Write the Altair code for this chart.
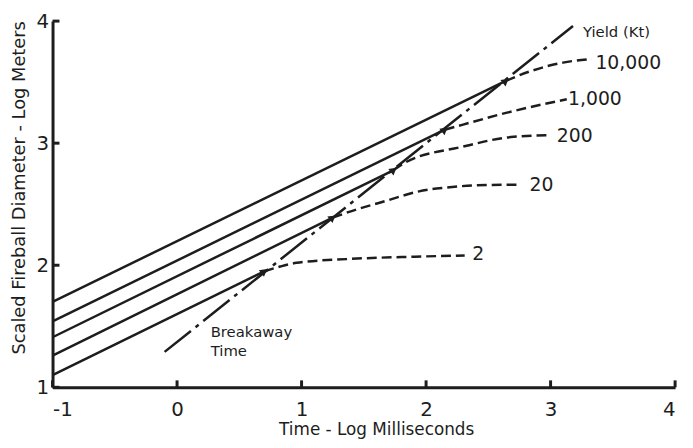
import altair as alt
import pandas as pd

FONT = "DejaVu Sans"
INK = "#1d1d1d"

# ---- data ----
x_ticks = [-1, 0, 1, 2, 3, 4]
y_ticks = [1, 2, 3, 4]

yields = ["2", "20", "200", "1,000", "10,000"]
solid_start_x = [-1, -1, -1, -1, -1]
solid_start_y = [1.10, 1.26, 1.41, 1.54, 1.70]
breakaway_x = [0.70, 1.25, 1.74, 2.15, 2.64]
breakaway_y = [1.95, 2.39, 2.78, 3.11, 3.51]

curve_2_x = [0.70, 0.83, 0.96, 1.36, 1.91, 2.31]
curve_2_y = [1.95, 1.99, 2.02, 2.05, 2.07, 2.08]
curve_20_x = [1.25, 1.45, 1.62, 2.02, 2.15, 2.41, 2.76]
curve_20_y = [2.39, 2.46, 2.51, 2.62, 2.635, 2.655, 2.66]
curve_200_x = [1.74, 1.83, 2.29, 2.68, 2.98]
curve_200_y = [2.78, 2.84, 2.97, 3.05, 3.065]
curve_1000_x = [2.15, 2.29, 2.65, 3.13]
curve_1000_y = [3.11, 3.15, 3.25, 3.36]
curve_10000_x = [2.64, 2.84, 3.10, 3.33]
curve_10000_y = [3.51, 3.59, 3.66, 3.69]

breakaway_line_x = [-0.10, 3.18]
breakaway_line_y = [1.29, 3.96]

label_x = [2.37, 2.83, 3.05, 3.14, 3.36]
label_y = [2.09, 2.66, 3.06, 3.36, 3.66]

yield_title = "Yield (Kt)"
yield_title_x = [3.26]
yield_title_y = [3.91]

break_text = ["Breakaway", "Time"]
break_text_x = [0.27, 0.27]
break_text_y = [1.415, 1.26]

# ---- tables ----
solid_rows = []
for i, name in enumerate(yields):
    solid_rows.append({"yield": name, "i": 0, "x": solid_start_x[i], "y": solid_start_y[i]})
    solid_rows.append({"yield": name, "i": 1, "x": breakaway_x[i], "y": breakaway_y[i]})
solid_df = pd.DataFrame(solid_rows)

curves = [(curve_2_x, curve_2_y), (curve_20_x, curve_20_y), (curve_200_x, curve_200_y),
          (curve_1000_x, curve_1000_y), (curve_10000_x, curve_10000_y)]
dash_rows = []
for name, (cx, cy) in zip(yields, curves):
    for k, (a, b) in enumerate(zip(cx, cy)):
        dash_rows.append({"yield": name, "i": k, "x": a, "y": b})
dash_df = pd.DataFrame(dash_rows)

break_df = pd.DataFrame({"x": breakaway_line_x, "y": breakaway_line_y, "i": [0, 1]})
arrow_df = pd.DataFrame({"x": breakaway_x, "y": breakaway_y})
label_df = pd.DataFrame({"x": label_x, "y": label_y, "t": yields})
ytitle_df = pd.DataFrame({"x": yield_title_x, "y": yield_title_y, "t": [yield_title]})
btext_df = pd.DataFrame({"x": break_text_x, "y": break_text_y, "t": break_text})
xt_df = pd.DataFrame({"x": x_ticks})
yt_df = pd.DataFrame({"y": y_ticks})

xs = alt.Scale(domain=[-1, 4], nice=False, zero=False)
ys = alt.Scale(domain=[1, 4], nice=False, zero=False)

x_axis = alt.Axis(values=x_ticks, title="Time - Log Milliseconds", grid=False, ticks=False,
                  tickSize=0, labelExpr="'' + datum.value", labelFontSize=20, labelPadding=12,
                  labelFont=FONT, labelColor=INK, domainWidth=3, domainColor=INK,
                  titleFont=FONT, titleFontSize=17, titleFontWeight="normal", titleColor=INK,
                  titleX=327, titleY=48, titleAlign="center", titleBaseline="alphabetic")
y_axis = alt.Axis(values=y_ticks, title="Scaled Fireball Diameter - Log Meters", grid=False,
                  ticks=False, tickSize=0, labelFontSize=20, labelPadding=4, labelFont=FONT,
                  labelColor=INK, domainWidth=3, domainColor=INK,
                  titleFont=FONT, titleFontSize=18, titleFontWeight="normal", titleColor=INK,
                  titleX=-28, titleY=168, titleAngle=270, titleAlign="center",
                  titleBaseline="alphabetic")

X = alt.X("x:Q", scale=xs, axis=x_axis)
Y = alt.Y("y:Q", scale=ys, axis=y_axis)

solid = alt.Chart(solid_df).mark_line(color=INK, strokeWidth=2.5).encode(
    x=X, y=Y, detail="yield:N", order="i:Q")
dashed = alt.Chart(dash_df).mark_line(color=INK, strokeWidth=2.5, strokeDash=[10, 5],
                                      interpolate="monotone").encode(
    x=X, y=Y, detail="yield:N", order="i:Q")
breakaway = alt.Chart(break_df).mark_line(color=INK, strokeWidth=2.5, strokeDash=[34, 6, 4, 6]).encode(
    x=X, y=Y, order="i:Q")
arrows = alt.Chart(arrow_df).mark_point(shape="triangle-up", filled=True, size=70, angle=51.5,
                                        color=INK, opacity=1).encode(x=X, y=Y)
xticks = alt.Chart(xt_df).mark_rule(color=INK, strokeWidth=3).encode(
    x=X, y=alt.value(370), y2=alt.value(363))
yticks = alt.Chart(yt_df).mark_rule(color=INK, strokeWidth=3).encode(
    y=Y, x=alt.value(0), x2=alt.value(7))
labels = alt.Chart(label_df).mark_text(align="left", baseline="middle", font=FONT, fontSize=19,
                                       color=INK).encode(x=X, y=Y, text="t:N")
ylabel = alt.Chart(ytitle_df).mark_text(align="left", baseline="middle", font=FONT, fontSize=15,
                                        color=INK).encode(x=X, y=Y, text="t:N")
btext = alt.Chart(btext_df).mark_text(align="left", baseline="alphabetic", font=FONT, fontSize=15,
                                      color=INK).encode(x=X, y=Y, text="t:N")

chart = alt.layer(solid, dashed, breakaway, arrows, xticks, yticks, labels, ylabel, btext).properties(
    width=629, height=370,
    autosize=alt.AutoSizeParams(type="none"),
    padding={"left": 45, "top": 11, "right": 10, "bottom": 50},
    background="white",
).configure_view(strokeWidth=0)

chart.save("out.html", embed_options={"renderer": "svg", "actions": False})
